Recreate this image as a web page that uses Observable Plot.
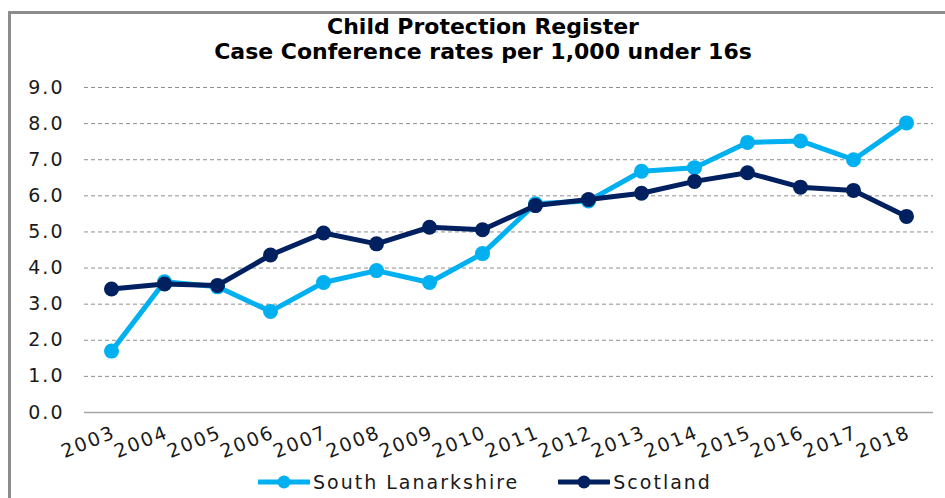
<!DOCTYPE html>
<html>
<head>
<meta charset="utf-8">
<script src="https://cdn.jsdelivr.net/npm/d3@7"></script>
<script src="https://cdn.jsdelivr.net/npm/@observablehq/plot@0.6"></script>
<style>
  body { margin: 0; background: #fff; }
  #wrap { position: relative; width: 945px; height: 498px; overflow: hidden; background: #fff; font-family: "DejaVu Sans", sans-serif; }
  #frame { position: absolute; left: 8px; top: 11px; width: 990px; height: 530px; border: 3px solid #8c8c8c; box-sizing: border-box; }
  #title { position: absolute; left: 0; top: 14px; width: 966px; text-align: center; font-weight: bold; font-size: 22px; line-height: 25px; color: #000; }
  #chart { position: absolute; left: 0; top: 0; }
  #chart svg text { letter-spacing: 2px; }
  #legend { position: absolute; left: 258px; top: 471px; display: flex; align-items: center; gap: 39px; font-size: 19px; letter-spacing: 2px; color: #1a1a1a; }
  .item { display: flex; align-items: center; gap: 3px; }
</style>
</head>
<body>
<div id="wrap">
  <div id="frame"></div>
  <div id="chart"></div>
  <div id="title"></div>
  <div id="legend"></div>
</div>
<script>
const titleLines = ["Child Protection Register", "Case Conference rates per 1,000 under 16s"];
const years = ["2003","2004","2005","2006","2007","2008","2009","2010","2011","2012","2013","2014","2015","2016","2017","2018"];
const seriesNames = ["South Lanarkshire", "Scotland"];
const seriesColors = ["#00B0F0", "#002060"];
const southLanarkshire = [1.7, 3.62, 3.48, 2.8, 3.6, 3.93, 3.6, 4.4, 5.78, 5.86, 6.68, 6.78, 7.48, 7.52, 7.0, 8.02];
const scotland = [3.42, 3.56, 3.52, 4.36, 4.97, 4.67, 5.13, 5.06, 5.73, 5.9, 6.07, 6.4, 6.64, 6.24, 6.15, 5.43];
const yTicks = [0, 1, 2, 3, 4, 5, 6, 7, 8, 9];

document.getElementById("title").innerHTML = titleLines.join("<br>");

const rows = [];
years.forEach((y, i) => {
  rows.push({year: y, value: southLanarkshire[i], series: seriesNames[0]});
});
years.forEach((y, i) => {
  rows.push({year: y, value: scotland[i], series: seriesNames[1]});
});

const marks = [
  Plot.ruleY(yTicks.filter(d => d > 0), {stroke: "#8f8f8f", strokeWidth: 1, strokeDasharray: "4,3"}),
  Plot.ruleY([0], {stroke: "#a6a6a6", strokeWidth: 1.5}),
  Plot.axisY(yTicks, {tickSize: 0, tickPadding: 20, tickFormat: d3.format(".1f"), fontSize: 19, fill: "#1a1a1a", label: null}),
  Plot.axisX(years, {tickSize: 0, tickRotate: -22, tickPadding: 19, fontSize: 19, fill: "#1a1a1a", textAnchor: "end", dx: 3, label: null})
];
seriesNames.forEach((name, k) => {
  const d = rows.filter(r => r.series === name);
  marks.push(Plot.line(d, {x: "year", y: "value", stroke: seriesColors[k], strokeWidth: 5}));
  marks.push(Plot.dot(d, {x: "year", y: "value", r: 7.5, fill: seriesColors[k], stroke: "none"}));
});

const chart = Plot.plot({
  width: 945,
  height: 470,
  marginTop: 87,
  marginBottom: 58,
  marginLeft: 84,
  marginRight: 12,
  style: {fontFamily: "DejaVu Sans", fontSize: "19px", background: "transparent", overflow: "visible"},
  x: {type: "point", domain: years, padding: 0.5, axis: null, label: null},
  y: {domain: [0, 9], axis: null, label: null},
  marks
});
document.getElementById("chart").appendChild(chart);

const legend = document.getElementById("legend");
seriesNames.forEach((name, k) => {
  const item = document.createElement("div");
  item.className = "item";
  item.innerHTML = `<svg width="52" height="16"><line x1="1" x2="51" y1="8" y2="8" stroke="${seriesColors[k]}" stroke-width="5" stroke-linecap="round"/><circle cx="26" cy="8" r="6.5" fill="${seriesColors[k]}"/></svg><span>${name}</span>`;
  legend.appendChild(item);
});
</script>
</body>
</html>
